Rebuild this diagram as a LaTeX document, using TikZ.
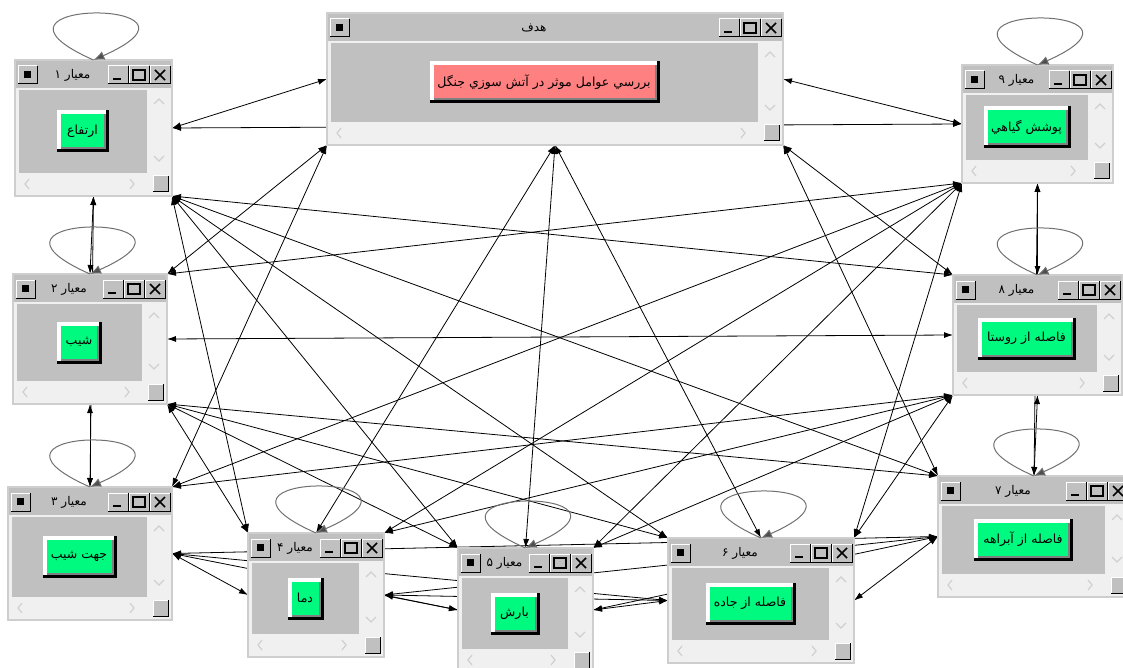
\documentclass[tikz,border=0pt]{standalone}
\usepackage{fontspec}
\newfontfamily\farsi[Script=Arabic]{DejaVu Sans}
\TeXXeTstate=1
\usetikzlibrary{arrows.meta,calc}

\definecolor{wingray}{RGB}{192,192,192}
\definecolor{winedge}{RGB}{206,206,206}
\definecolor{winback}{RGB}{240,240,240}
\definecolor{chevron}{RGB}{208,208,208}
\definecolor{boxshadow}{RGB}{128,128,128}
\definecolor{nodegreen}{RGB}{0,250,128}
\definecolor{goalpink}{RGB}{255,128,128}
\definecolor{loopgray}{RGB}{112,112,112}

\tikzstyle{window}=[rectangle,draw=winedge,fill=wingray,line width=2,inner sep=0,outer sep=0]
\tikzstyle{frame}=[rectangle,inner sep=0,outer sep=0]
\tikzstyle{btn}=[rectangle,inner sep=0,outer sep=0,font=\farsi\fontsize{12.5}{13}\selectfont]
\tikzstyle{wtitle}=[inner sep=0,font=\farsi\fontsize{12}{13}\selectfont]
\tikzstyle{chev}=[draw=chevron,line width=1.2]
\tikzstyle{selfloop}=[draw=loopgray,line width=1,-{Latex[length=11,width=9,fill=loopgray!70!black]}]
\tikzstyle{conn}=[line width=0.8]

% small 3d box of the title bar
\newcommand{\winbox}[4]{%
  \fill[wingray] (#1,#2) rectangle (#3,#4);
  \draw[white,line width=1] (#1,#4) -- (#1,#2) -- (#3,#2);
  \draw[black,line width=1] (#1,#4) -- (#3,#4) -- (#3,#2);}

% name, x1, y1, x2, y2, title, button text, button width, button colour
\newcommand{\critwin}[9]{%
  \pgfmathsetmacro\ww{#4-#2}\pgfmathsetmacro\hh{#5-#3}%
  \node[window,minimum width=\ww,minimum height=\hh,anchor=north west] (#1) at (#2,#3) {};
  \begin{scope}[shift={(#2,#3)}]
    \fill[winback] (1,28) rectangle (\ww-1,\hh-1);
    \fill[wingray] (4,30) rectangle (\ww-25,\hh-23);
    \draw[chev] (\ww-18,44) -- (\ww-13,39) -- (\ww-8,44);
    \draw[chev] (\ww-18,\hh-40) -- (\ww-13,\hh-35) -- (\ww-8,\hh-40);
    \draw[chev] (14,\hh-17) -- (10,\hh-12) -- (14,\hh-7);
    \draw[chev] (\ww-42,\hh-17) -- (\ww-38,\hh-12) -- (\ww-42,\hh-7);
    \winbox{\ww-19}{\hh-20}{\ww-4}{\hh-4}
    % title bar
    \winbox{3}{6}{22}{24}
    \fill (9,11) rectangle (16,18);
    \winbox{\ww-64}{6}{\ww-44}{24}
    \fill (\ww-59,18) rectangle (\ww-51,20);
    \winbox{\ww-43}{6}{\ww-23}{24}
    \draw[line width=1.2] (\ww-39,10) rectangle (\ww-27,20);
    \winbox{\ww-22}{6}{\ww-2}{24}
    \draw[line width=1.5] (\ww-17,10) -- (\ww-7,20) (\ww-17,20) -- (\ww-7,10);
    \node[wtitle] (#1t) at ({(22+\ww-64)/2},15) {#6};
    % button
    \pgfmathsetmacro\cx{(4+\ww-25)/2}\pgfmathsetmacro\cy{(30+\hh-23)/2}
    \fill[black] (\cx-#8/2,\cy-21) rectangle (\cx+#8/2,\cy+21);
    \fill[white] (\cx-#8/2,\cy-21) rectangle (\cx+#8/2-3,\cy+18);
    \fill[boxshadow] (\cx-#8/2+4,\cy-17) rectangle (\cx+#8/2-3,\cy+18);
    \node[btn,fill=#9,minimum width=#8-9,minimum height=33] (#1b) at (\cx-0.5,\cy-0.5) {#7};
  \end{scope}}

\begin{document}
\begin{tikzpicture}[x=1pt,y=-1pt,>={Latex[length=9,width=6]}]
  \useasboundingbox (0,0) rectangle (1123,668);
  \clip (0,0) rectangle (1123,668);

  % outlines of the windows, set first so that the links go under them
  \node[frame,minimum width=456,minimum height=132] (goal) at (555,79) {};
  \node[frame,minimum width=157,minimum height=136] (c1) at (93.5,128) {};
  \node[frame,minimum width=154,minimum height=130] (c2) at (90,339) {};
  \node[frame,minimum width=164,minimum height=133] (c3) at (90,553.5) {};
  \node[frame,minimum width=136,minimum height=124] (c4) at (316,595) {};
  \node[frame,minimum width=135,minimum height=124] (c5) at (525.5,610) {};
  \node[frame,minimum width=186,minimum height=125] (c6) at (761,600.5) {};
  \node[frame,minimum width=192,minimum height=121] (c7) at (1034,536.5) {};
  \node[frame,minimum width=169,minimum height=120] (c8) at (1037.5,335) {};
  \node[frame,minimum width=151,minimum height=118] (c9) at (1037.5,124) {};

  % goal links
  \path[conn,<->] (goal.west) edge node {} (c1.east);
  \path[conn,<->] (goal.east) edge node {} (c9.west);
  \path[conn,<->] (goal.south west) edge node {} (c2.north east);
  \path[conn,<->] (goal.south west) edge node {} (c3.north east);
  \path[conn,<->] (goal.south) edge node {} (c4.north);
  \path[conn,<->] (goal.south) edge node {} (c5.north);
  \path[conn,<->] (goal.south) edge node {} (c6.north);
  \path[conn,<->] (goal.south east) edge node {} (c7.north west);
  \path[conn,<->] (goal.south east) edge node {} (c8.north west);

  % criterion 1
  \path[conn,<->] (c1.south) edge node {} (c2.north);
  \path[conn,<->] (c1.south) edge node {} (c3.north);
  \path[conn,<->] (c1.south east) edge node {} (c4.north west);
  \path[conn,<->] (c1.south east) edge node {} (c5.north west);
  \path[conn,<->] (c1.south east) edge node {} (c6.north west);
  \path[conn,<->] (c1.south east) edge node {} (c7.north west);
  \path[conn,<->] (c1.south east) edge node {} (c8.north west);
  \path[conn,<->] (c1.east) edge node {} (c9.west);

  % criterion 2
  \path[conn,<->] (c2.south) edge node {} (c3.north);
  \path[conn,<->] (c2.south east) edge node {} (c4.north west);
  \path[conn,<->] (c2.south east) edge node {} (c5.north west);
  \path[conn,<->] (c2.south east) edge node {} (c6.north west);
  \path[conn,<->] (c2.south east) edge node {} (c7.north west);
  \path[conn,<->] (c2.east) edge node {} (c8.west);
  \path[conn,<->] (c2.north east) edge node {} (c9.south west);

  % criterion 3
  \path[conn,<->] (c3.east) edge node {} (c4.west);
  \path[conn,<->] (c3.east) edge node {} (c5.west);
  \path[conn,<->] (c3.east) edge node {} (c6.west);
  \path[conn,<->] (c3.east) edge node {} (c7.west);
  \path[conn,<->] (c3.north east) edge node {} (c8.south west);
  \path[conn,<->] (c3.north east) edge node {} (c9.south west);

  % criterion 4
  \path[conn,<->] (c4.east) edge node {} (c5.west);
  \path[conn,<->] (c4.east) edge node {} (c6.west);
  \path[conn,<->] (c4.east) edge node {} (c7.west);
  \path[conn,<->] (c4.north east) edge node {} (c8.south west);
  \path[conn,<->] (c4.north east) edge node {} (c9.south west);

  % criterion 5
  \path[conn,<->] (c5.east) edge node {} (c6.west);
  \path[conn,<->] (c5.east) edge node {} (c7.west);
  \path[conn,<->] (c5.north east) edge node {} (c8.south west);
  \path[conn,<->] (c5.north east) edge node {} (c9.south west);

  % criterion 6
  \path[conn,<->] (c6.east) edge node {} (c7.west);
  \path[conn,<->] (c6.north east) edge node {} (c8.south west);
  \path[conn,<->] (c6.north east) edge node {} (c9.south west);

  % criteria 7, 8, 9
  \path[conn,<->] (c7.north) edge node {} (c8.south);
  \path[conn,<->] (c7.north) edge node {} (c9.south);
  \path[conn,<->] (c8.north) edge node {} (c9.south);

  % windows
  \critwin{goalw}{327}{13}{783}{145}{\beginR هدف\endR}{\beginR بررسي عوامل موثر در آتش سوزي جنگل\endR}{230}{goalpink}
  \critwin{c1w}{15}{60}{172}{196}{\beginR معيار ۱\endR}{\beginR ارتفاع\endR}{52}{nodegreen}
  \critwin{c2w}{13}{274}{167}{404}{\beginR معيار ۲\endR}{\beginR شيب\endR}{45}{nodegreen}
  \critwin{c3w}{8}{487}{172}{620}{\beginR معيار ۳\endR}{\beginR جهت شيب\endR}{74}{nodegreen}
  \critwin{c4w}{248}{533}{384}{657}{\beginR معيار ۴\endR}{\beginR دما\endR}{36}{nodegreen}
  \critwin{c5w}{458}{548}{593}{672}{\beginR معيار ۵\endR}{\beginR بارش\endR}{49}{nodegreen}
  \critwin{c6w}{668}{538}{854}{663}{\beginR معيار ۶\endR}{\beginR فاصله از جاده\endR}{90}{nodegreen}
  \critwin{c7w}{938}{476}{1130}{597}{\beginR معيار ۷\endR}{\beginR فاصله از آبراهه\endR}{99}{nodegreen}
  \critwin{c8w}{953}{275}{1122}{395}{\beginR معيار ۸\endR}{\beginR فاصله از روستا\endR}{98}{nodegreen}
  \critwin{c9w}{962}{65}{1113}{183}{\beginR معيار ۹\endR}{\beginR پوشش گياهي\endR}{87}{nodegreen}

  % self loops
  \path[selfloop] (c1.north) .. controls +(-140,-62) and +(140,-62) .. (c1.north);
  \path[selfloop] (c2.north) .. controls +(-140,-62) and +(140,-62) .. (c2.north);
  \path[selfloop] (c3.north) .. controls +(-140,-62) and +(140,-62) .. (c3.north);
  \path[selfloop] (c4.north) .. controls +(-140,-62) and +(140,-62) .. (c4.north);
  \path[selfloop] (c5.north) .. controls +(-140,-62) and +(140,-62) .. (c5.north);
  \path[selfloop] (c6.north) .. controls +(-140,-62) and +(140,-62) .. (c6.north);
  \path[selfloop] (c7.north) .. controls +(-140,-62) and +(140,-62) .. (c7.north);
  \path[selfloop] (c8.north) .. controls +(-140,-62) and +(140,-62) .. (c8.north);
  \path[selfloop] (c9.north) .. controls +(-140,-62) and +(140,-62) .. (c9.north);
\end{tikzpicture}
\end{document}
